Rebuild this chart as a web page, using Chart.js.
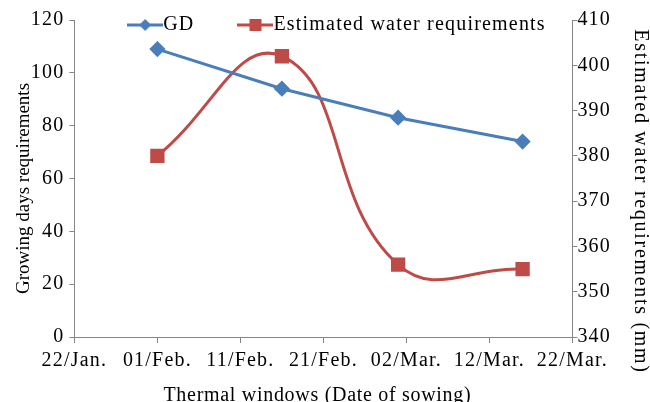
<!DOCTYPE html>
<html>
<head>
<meta charset="utf-8">
<script src="https://cdn.jsdelivr.net/npm/chart.js@4.4.1/dist/chart.umd.min.js"></script>
<style>
  html, body { margin: 0; padding: 0; background: #fff; }
  #wrap { width: 650px; height: 402px; }
</style>
</head>
<body>
<div id="wrap"><canvas id="thermalChart" width="650" height="402"></canvas></div>
<script>
// days counted from 22/Jan (x axis runs 0..60, one tick every 10 days)
const sowingDays = [10, 25, 39, 54];
const growingDays = [109, 94, 83, 74];
const waterReq = [380, 402, 356, 355];
const dateTicks = ['22/Jan.', '01/Feb.', '11/Feb.', '21/Feb.', '02/Mar.', '12/Mar.', '22/Mar.'];
const seriesNames = ['GD', 'Estimated water requirements'];

const BLUE = '#4A7EBB';
const RED = '#BE4B48';
const AXIS = '#868686';
const FONT = "'Liberation Serif', 'Times New Roman', serif";

// the original figure is a bit stretched sideways, so text gets some letter spacing
const BASE_SPACING = '1.2px';
const titleSpacing = { x: '0.7px', y: '0px', y1: '1.7px' };
// axis titles in the original are not centred on their axis
const titleShift = { x: [-6, 0], y: [3, 10], y1: [0, 23] };

// small legend icon: line with the marker in the middle
function legendIcon(color, shape) {
  const c = document.createElement('canvas');
  c.width = 36; c.height = 16;
  const g = c.getContext('2d');
  g.strokeStyle = color;
  g.lineWidth = 3;
  g.beginPath(); g.moveTo(0, 8); g.lineTo(36, 8); g.stroke();
  g.fillStyle = color;
  if (shape === 'diamond') {
    g.beginPath();
    g.moveTo(18, 2); g.lineTo(24, 8); g.lineTo(18, 14); g.lineTo(12, 8);
    g.closePath(); g.fill();
  } else {
    g.fillRect(12, 2, 12, 12);
  }
  return c;
}
const icons = [legendIcon(BLUE, 'diamond'), legendIcon(RED, 'square')];

// legend sits inside the plot area at the top, like the excel original
const tweaks = {
  id: 'tweaks',
  beforeUpdate(chart) {
    chart.ctx.letterSpacing = BASE_SPACING;
  },
  beforeLayout(chart) {
    const lg = chart.legend;
    if (lg && !lg._flat) {
      const fit = lg.fit;
      lg.fit = function () { fit.call(this); this.height = 0; };
      lg._flat = true;
    }
  },
  afterLayout(chart) {
    const lg = chart.legend;
    const pad = lg.options.labels.padding;
    lg.top = 15 - pad;
    lg.bottom = 60;
    lg.left += 14;
    lg.right += 14;
    Object.values(chart.scales).forEach((s) => {
      if (s._spaced) return;
      const draw = s.drawTitle;
      s.drawTitle = function () {
        const c = this.ctx;
        const shift = titleShift[this.id];
        c.save();
        c.letterSpacing = titleSpacing[this.id];
        c.translate(shift[0], shift[1]);
        draw.call(this);
        c.restore();
      };
      s._spaced = true;
    });
  }
};

const ctx = document.getElementById('thermalChart').getContext('2d');

const data = {
  datasets: [
    {
      label: seriesNames[0],
      data: sowingDays.map((d, i) => ({ x: d, y: growingDays[i] })),
      yAxisID: 'y',
      borderColor: BLUE,
      backgroundColor: BLUE,
      borderWidth: 3,
      pointStyle: 'rectRot',
      pointRadius: 6,
      pointHoverRadius: 6,
      tension: 0
    },
    {
      label: seriesNames[1],
      data: sowingDays.map((d, i) => ({ x: d, y: waterReq[i] })),
      yAxisID: 'y1',
      borderColor: RED,
      backgroundColor: RED,
      borderWidth: 3,
      pointStyle: 'rect',
      pointRadius: 8,
      pointHoverRadius: 8,
      tension: 0.45
    }
  ]
};

const config = {
  type: 'line',
  data: data,
  plugins: [tweaks],
  options: {
    responsive: false,
    animation: false,
    layout: { padding: { left: 3, right: -2, top: 20, bottom: -6 } },
    plugins: {
      tooltip: { enabled: false },
      legend: {
        position: 'top',
        align: 'center',
        labels: {
          usePointStyle: true,
          pointStyleWidth: 16,
          padding: 53,
          color: '#000',
          font: { family: FONT, size: 20, lineHeight: 1 },
          generateLabels: (chart) => {
            const items = Chart.defaults.plugins.legend.labels.generateLabels(chart);
            items.forEach((it, i) => { it.pointStyle = icons[i]; });
            return items;
          }
        }
      }
    },
    scales: {
      x: {
        type: 'linear',
        min: 0,
        max: 60,
        ticks: {
          stepSize: 10,
          color: '#000',
          padding: 6,
          font: { family: FONT, size: 20 },
          callback: (v) => dateTicks[v / 10]
        },
        grid: { drawOnChartArea: false, tickLength: 6, color: AXIS },
        border: { color: AXIS },
        title: {
          display: true,
          text: 'Thermal windows (Date of sowing)',
          color: '#000',
          font: { family: FONT, size: 20 },
          padding: { top: 5, bottom: 0 }
        }
      },
      y: {
        position: 'left',
        min: 0,
        max: 120,
        ticks: {
          stepSize: 20,
          color: '#000',
          padding: 5,
          font: { family: FONT, size: 20 }
        },
        grid: { drawOnChartArea: false, tickLength: 5, color: AXIS },
        border: { color: AXIS },
        title: {
          display: true,
          text: 'Growing days requirements',
          color: '#000',
          font: { family: FONT, size: 19 },
          padding: { top: 7, bottom: -7 }
        }
      },
      y1: {
        position: 'right',
        min: 340,
        max: 410,
        ticks: {
          stepSize: 10,
          color: '#000',
          padding: 0,
          font: { family: FONT, size: 20 }
        },
        grid: { drawOnChartArea: false, tickLength: 5, color: AXIS },
        border: { color: AXIS },
        title: {
          display: true,
          text: 'Estimated water requirements (mm)',
          color: '#000',
          font: { family: FONT, size: 20 },
          padding: { top: 0, bottom: 17 }
        }
      }
    }
  }
};

const thermalChart = new Chart(ctx, config);
</script>
</body>
</html>
